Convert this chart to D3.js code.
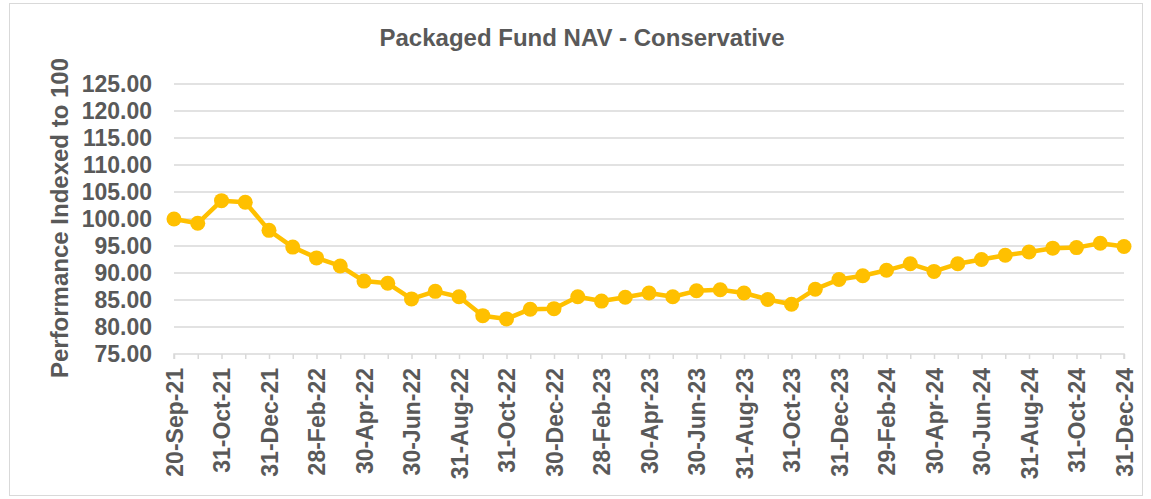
<!doctype html>
<html>
<head>
<meta charset="utf-8">
<script src="https://d3js.org/d3.v7.min.js"></script>
<style>
  body { margin: 0; background: #fff; }
  text { font-family: "Liberation Sans", Arial, sans-serif; fill: #595959; font-weight: bold; }
</style>
</head>
<body>
<svg width="1151" height="499"></svg>
<script>
var dates = ["20-Sep-21","30-Sep-21","31-Oct-21","30-Nov-21","31-Dec-21",
  "31-Jan-22","28-Feb-22","31-Mar-22","30-Apr-22","31-May-22","30-Jun-22","31-Jul-22","31-Aug-22","30-Sep-22","31-Oct-22","30-Nov-22","30-Dec-22",
  "31-Jan-23","28-Feb-23","31-Mar-23","30-Apr-23","31-May-23","30-Jun-23","31-Jul-23","31-Aug-23","30-Sep-23","31-Oct-23","30-Nov-23","31-Dec-23",
  "31-Jan-24","29-Feb-24","31-Mar-24","30-Apr-24","31-May-24","30-Jun-24","31-Jul-24","31-Aug-24","30-Sep-24","31-Oct-24","30-Nov-24","31-Dec-24"];

var navValues = [100.0, 99.2, 103.4, 103.1, 97.9, 94.8, 92.8, 91.3, 88.5, 88.1, 85.2, 86.6, 85.6, 82.1, 81.5, 83.3, 83.4,
  85.6, 84.8, 85.5, 86.3, 85.6, 86.7, 86.9, 86.3, 85.1, 84.2, 87.0, 88.8,
  89.5, 90.5, 91.7, 90.3, 91.7, 92.5, 93.3, 93.9, 94.6, 94.7, 95.5, 94.9];

var yTicks = [75, 80, 85, 90, 95, 100, 105, 110, 115, 120, 125];

var svg = d3.select("svg");

// outer chart border
svg.append("rect")
   .attr("x", 9.5).attr("y", 3.5)
   .attr("width", 1133).attr("height", 492)
   .attr("fill", "none")
   .attr("stroke", "#d9d9d9");

var x = d3.scalePoint().domain(dates).range([174, 1124]),
    y = d3.scaleLinear().domain([75, 125]).range([354, 84]);

// gridlines
svg.append("g")
   .selectAll("line")
   .data(yTicks.filter(function(d) { return d > 75; }))
   .enter().append("line")
   .attr("x1", 174).attr("x2", 1124)
   .attr("y1", function(d) { return y(d); })
   .attr("y2", function(d) { return y(d); })
   .attr("stroke", "#d9d9d9")
   .attr("stroke-width", 1.5);

// y axis labels
var yAxis = svg.append("g")
   .attr("transform", "translate(174,0)")
   .call(d3.axisLeft(y).tickValues(yTicks).tickSize(0).tickPadding(22)
          .tickFormat(function(d) { return d3.format(".2f")(d); }));
yAxis.select(".domain").remove();
yAxis.selectAll("text").attr("font-size", "23px").attr("fill", "#595959");

// x axis
var xAxis = svg.append("g")
   .attr("transform", "translate(0,354)")
   .call(d3.axisBottom(x).tickSize(5)
          .tickFormat(function(d, i) { return i % 2 === 0 ? d : ""; }));
xAxis.select(".domain")
     .attr("d", "M174,5V0H1124V5")
     .attr("stroke", "#d9d9d9").attr("stroke-width", 1.5);
xAxis.selectAll(".tick line").attr("stroke", "#d9d9d9").attr("stroke-width", 1.5);
xAxis.selectAll("text")
     .attr("font-size", "23px")
     .attr("fill", "#595959")
     .attr("transform", "rotate(-90)")
     .attr("x", -14)
     .attr("y", 0)
     .attr("dy", "0.35em")
     .attr("text-anchor", "end");

// line and markers
var line = d3.line()
   .x(function(d, i) { return x(dates[i]); })
   .y(function(d) { return y(d); });

svg.append("path")
   .datum(navValues)
   .attr("d", line)
   .attr("fill", "none")
   .attr("stroke", "#ffc000")
   .attr("stroke-width", 4.5)
   .attr("stroke-linejoin", "round");

svg.append("g")
   .selectAll("circle")
   .data(navValues)
   .enter().append("circle")
   .attr("cx", function(d, i) { return x(dates[i]); })
   .attr("cy", function(d) { return y(d); })
   .attr("r", 7.5)
   .attr("fill", "#ffc000");

// titles
svg.append("text")
   .attr("x", 582).attr("y", 46)
   .attr("text-anchor", "middle")
   .attr("font-size", "24px")
   .text("Packaged Fund NAV - Conservative");

svg.append("text")
   .attr("transform", "translate(68,218) rotate(-90)")
   .attr("text-anchor", "middle")
   .attr("font-size", "24px")
   .text("Performance Indexed to 100");
</script>
</body>
</html>
